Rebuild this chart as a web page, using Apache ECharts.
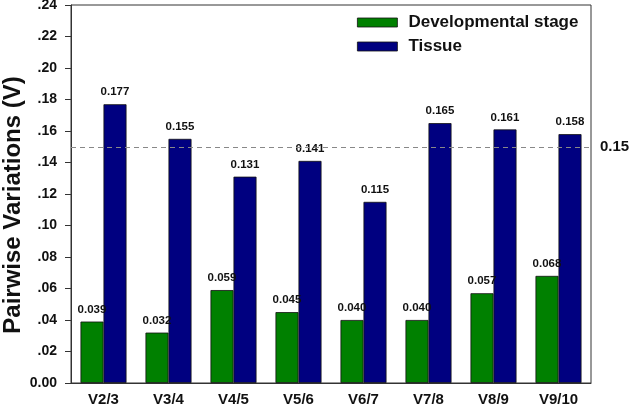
<!DOCTYPE html>
<html><head><meta charset="utf-8">
<script src="https://cdn.jsdelivr.net/npm/echarts@6/dist/echarts.min.js"></script>
<style>html,body{margin:0;padding:0;background:#fff}#c{width:629px;height:414px}</style>
</head><body><div id="c"></div>
<script>
const categories = ['V2/3','V3/4','V4/5','V5/6','V6/7','V7/8','V8/9','V9/10'];
const developmental = [0.039,0.032,0.059,0.045,0.040,0.040,0.057,0.068];
const tissue = [0.177,0.155,0.131,0.141,0.115,0.165,0.161,0.158];
const threshold = 0.15;
const font = 'Liberation Sans, Arial, sans-serif';
const chart = echarts.init(document.getElementById('c'));
const lbl = {show:true,position:'top',fontFamily:font,fontWeight:'bold',fontSize:11.5,color:'#111',distance:6,formatter:p=>p.value.toFixed(3)};
chart.setOption({
  animation:false,
  grid:{left:71,right:38,top:5,bottom:31,containLabel:false,outerBoundsMode:'none',show:true,borderColor:'#333',borderWidth:1,backgroundColor:'transparent'},
  legend:{orient:'vertical',left:352,top:9,itemWidth:40,itemHeight:9,itemGap:7,icon:'rect',
    itemStyle:{borderColor:'#111',borderWidth:0.8},
    textStyle:{fontFamily:font,fontWeight:700,fontSize:17,color:'#111',padding:[0,0,0,6]},
    data:['Developmental stage','Tissue']},
  xAxis:{type:'category',data:categories,
    axisLine:{lineStyle:{color:'#333'}},
    axisTick:{alignWithLabel:true,length:6,lineStyle:{color:'#333'}},
    axisLabel:{fontFamily:font,fontWeight:'bold',fontSize:15,color:'#111',margin:9}},
  yAxis:{type:'value',min:0,max:0.24,interval:0.02,
    name:'Pairwise Variations (V)',nameLocation:'middle',nameGap:46,nameMoveOverlap:false,
    nameTextStyle:{fontFamily:font,fontWeight:'bold',fontSize:24,color:'#111',padding:[0,22,0,0]},
    axisLine:{show:true,lineStyle:{color:'#333'}},
    axisTick:{show:true,length:6,lineStyle:{color:'#333'}},
    splitLine:{show:false},
    axisLabel:{fontFamily:font,fontWeight:'bold',fontSize:14,color:'#111',margin:14,
      formatter:v=>v===0?'0.00':v.toFixed(2).replace(/^0/,'')}},
  series:[
    {name:'Developmental stage',type:'bar',data:developmental,barWidth:23,barGap:'0%',
      itemStyle:{color:'#008000',borderColor:'#111',borderWidth:0.8},label:lbl,
      markLine:{symbol:'none',silent:true,data:[{yAxis:threshold}],
        lineStyle:{type:[5,4],color:'#888',width:1},
        label:{position:'end',formatter:'0.15',fontFamily:font,fontWeight:'bold',fontSize:15,color:'#111',distance:9}}},
    {name:'Tissue',type:'bar',data:tissue,barWidth:23,
      itemStyle:{color:'#000080',borderColor:'#111',borderWidth:0.8},label:lbl}
  ]
});
</script></body></html>
